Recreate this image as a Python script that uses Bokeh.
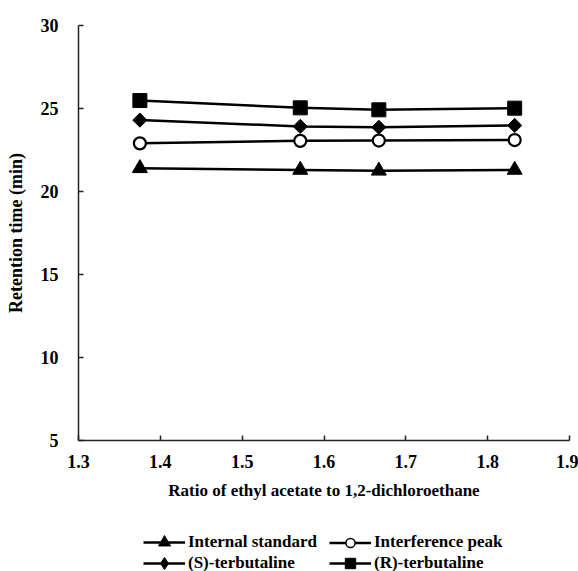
import math
from bokeh.plotting import figure
from bokeh.models import FixedTicker, Legend, LegendItem, Range1d
from bokeh.layouts import column
from bokeh.embed import file_html
from bokeh.resources import INLINE

ratio = [1.375, 1.571, 1.667, 1.833]
internal_standard = [21.4, 21.3, 21.25, 21.3]
interference_peak = [22.9, 23.05, 23.07, 23.1]
s_terbutaline = [24.3, 23.92, 23.87, 23.98]
r_terbutaline = [25.48, 25.04, 24.92, 25.02]
x_ticks = [1.3, 1.4, 1.5, 1.6, 1.7, 1.8, 1.9]
y_ticks = [5, 10, 15, 20, 25, 30]

FONT = "Liberation Serif"
TOP_H = 505
LEG_H = 571 - TOP_H

p = figure(width=578, height=TOP_H, output_backend="svg", toolbar_location=None,
           x_range=Range1d(1.3, 1.9), y_range=Range1d(5, 30),
           min_border_left=78, min_border_right=9, min_border_top=25,
           min_border_bottom=TOP_H - 440)
p.grid.visible = False
p.outline_line_color = None

for ax in (p.xaxis[0], p.yaxis[0]):
    ax.axis_line_color = "#222222"
    ax.axis_line_width = 1.5
    ax.major_tick_line_color = "#222222"
    ax.major_tick_line_width = 1.5
    ax.major_tick_in = 5
    ax.major_tick_out = 0
    ax.minor_tick_line_color = None
    ax.major_label_text_font = FONT
    ax.major_label_text_font_style = "bold"
    ax.major_label_text_font_size = "18px"
    ax.major_label_text_color = "black"
    ax.axis_label_text_font = FONT
    ax.axis_label_text_font_style = "bold"
    ax.axis_label_text_color = "black"

p.xaxis[0].ticker = FixedTicker(ticks=x_ticks)
p.yaxis[0].ticker = FixedTicker(ticks=y_ticks)
p.xaxis[0].axis_label = "Ratio of ethyl acetate to 1,2-dichloroethane"
p.yaxis[0].axis_label = "Retention time (min)"
p.xaxis[0].axis_label_text_font_size = "17px"
p.yaxis[0].axis_label_text_font_size = "18px"
p.xaxis[0].major_label_standoff = 14
p.xaxis[0].axis_label_standoff = 10
p.yaxis[0].major_label_standoff = 20
p.yaxis[0].axis_label_standoff = 12

LW = 2.5
# data, plot marker, size, fill, angle, marker line width, legend marker, name
series = [
    (internal_standard, "triangle", 15, "black", 0.0, 1, "triangle", "Internal standard"),
    (interference_peak, "circle", 12, "white", 0.0, 2.2, "circle", "Interference peak"),
    (s_terbutaline, "square", 10, "black", math.pi / 4, 1, "diamond", "(S)-terbutaline"),
    (r_terbutaline, "square", 14, "black", 0.0, 1, "square", "(R)-terbutaline"),
]
for ys, marker, size, fill, ang, mlw, lmarker, name in series:
    p.line(ratio, ys, line_color="black", line_width=LW)
    p.scatter(ratio, ys, marker=marker, size=size, fill_color=fill, angle=ang,
              line_color="black", line_width=mlw)

# legend strip below the chart (its frame is aligned with the chart's frame)
lf = figure(width=578, height=LEG_H, output_backend="svg", toolbar_location=None,
            x_range=Range1d(0, 1), y_range=Range1d(0, 1),
            x_axis_location=None, y_axis_location=None,
            min_border_left=0, min_border_right=0, min_border_top=0, min_border_bottom=0)
lf.grid.visible = False
lf.outline_line_color = None

items = {}
for ys, marker, size, fill, ang, mlw, lmarker, name in series:
    l = lf.line([-10, -9], [-10, -10], line_color="black", line_width=LW)
    s = lf.scatter([-10], [-10], marker=lmarker, fill_color=fill,
                   line_color="black", line_width=1.5 if lmarker == "circle" else 1)
    items[name] = LegendItem(label=name, renderers=[l, s])

def make_legend(name, x, cy, gh):
    # cy: row centre in pixels from the top of the strip
    y = LEG_H - (cy + gh / 2.0)
    lg = Legend(items=[items[name]], location=(x, y),
                orientation="vertical", padding=0, margin=0, spacing=0,
                glyph_width=42, glyph_height=gh, label_height=gh, label_standoff=3,
                border_line_color=None, background_fill_alpha=0,
                label_text_font=FONT, label_text_font_style="bold",
                label_text_font_size="17px", label_text_color="black")
    lf.add_layout(lg, "center")

row1 = 542 - TOP_H
row2 = 563 - TOP_H
make_legend("Internal standard", 65, row1, 30)
make_legend("(S)-terbutaline", 65, row2, 30)
make_legend("Interference peak", 251, row1, 23)
make_legend("(R)-terbutaline", 251, row2, 26)

layout = column(p, lf, spacing=0)
open("out.html", "w").write(file_html(layout, INLINE))
